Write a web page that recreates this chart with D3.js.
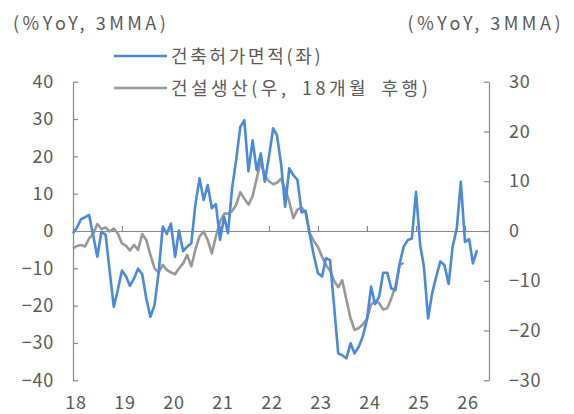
<!DOCTYPE html>
<html>
<head>
<meta charset="utf-8">
<script src="https://cdn.jsdelivr.net/npm/d3@7"></script>
<style>
  body { margin: 0; background: #fff; }
  svg text { font-family: "Noto Sans CJK KR", "Noto Sans", sans-serif; fill: #595959; }
</style>
</head>
<body>
<svg id="chart" width="574" height="414"></svg>
<script>
// monthly, starting Jan 2018
const startDate = new Date(2018, 0, 1);
const yearLabels = ['18', '19', '20', '21', '22', '23', '24', '25', '26'];
const unitLabel = '(%YoY, 3MMA)';
const seriesNames = ['건축허가면적(좌)', '건설생산(우, 18개월 후행)'];

// 건축허가면적 (left axis)
const permitArea = [
  -0.6, 1.0, 3.1, 3.7, 4.3, -1.3, -6.9, -0.2, -1.0, -10.6,
  -20.3, -15.8, -10.6, -12.2, -14.7, -12.7, -10.1, -11.6, -18.0, -23.0,
  -19.8, -11.2, 1.2, -0.8, 2.0, -6.9, 0.1, -5.4, -4.2, -3.3,
  7.0, 14.1, 8.3, 12.3, 6.1, 7.2, -2.4, 3.8, -0.6, 11.5,
  19.0, 27.9, 29.7, 16.0, 24.3, 16.3, 20.8, 13.2, 20.0, 27.5,
  25.7, 18.0, 6.5, 16.8, 15.0, 13.7, 5.0, 5.4, -1.0, -6.5,
  -11.3, -12.2, -7.3, -7.8, -20.0, -32.8, -33.3, -34.1, -30.1, -32.8,
  -31.0, -28.3, -23.8, -14.9, -19.6, -17.6, -11.2, -11.2, -15.4, -15.8,
  -8.7, -4.2, -2.4, -2.0, 10.5, -3.8, -9.6, -23.4, -16.7, -12.2,
  -8.2, -9.1, -14.2, -4.2, 0.7, 13.2, -2.9, -2.2, -8.7, -5.1
];

// 건설생산, 18개월 후행 (right axis)
const constructionOutput = [
  -3.5, -3.0, -2.8, -3.1, -1.5, -0.6, 1.4, 0.4, 0.7, -0.1,
  0.5, -0.5, -2.5, -3.0, -3.9, -2.8, -3.8, -0.6, -1.8, -4.8,
  -7.5, -8.3, -6.8, -7.8, -8.3, -8.7, -7.5, -6.5, -4.8, -7.1,
  -3.8, -1.1, -0.1, -1.8, -4.5, -1.1, 1.9, 3.5, 3.5, 4.0,
  5.2, 7.8, 6.5, 5.3, 7.0, 10.5, 14.0, 11.0, 10.0, 9.4,
  9.7, 10.5, 8.5, 5.9, 2.6, 4.3, 4.7, 3.7, -0.5, -2.0,
  -3.2, -5.2, -6.8, -8.0, -10.0, -11.3, -9.9, -13.8, -17.5, -19.9,
  -19.5, -18.8, -17.7, -14.8, -14.1, -14.5, -15.8, -15.5, -13.5, -11.1,
  -6.8, -6.4
];

const leftTicks = [-40, -30, -20, -10, 0, 10, 20, 30, 40];
const rightTicks = [-30, -20, -10, 0, 10, 20, 30];

const BLUE = '#4a89dc';
const GRAY = '#989898';
const AXIS = '#868686';

const svg = d3.select('#chart');
const monthDate = i => d3.timeMonth.offset(startDate, i);

const x = d3.scaleTime()
  .domain([startDate, new Date(2026, 5, 29)])
  .range([73, 489]);
const yL = d3.scaleLinear().domain([-40, 40]).range([380.3, 81.7]);
const yR = d3.scaleLinear().domain([-30, 30]).range([380.3, 81.7]);

const fmt = v => (v < 0 ? '\u2212' + Math.abs(v) : String(v));

// left axis
const gL = svg.append('g').attr('transform', 'translate(73,0)')
  .call(d3.axisLeft(yL).tickValues(leftTicks).tickFormat(fmt)
    .tickSizeInner(-5).tickSizeOuter(0).tickPadding(19));

// right axis
const gR = svg.append('g').attr('transform', 'translate(489,0)')
  .call(d3.axisRight(yR).tickValues(rightTicks).tickFormat(fmt)
    .tickSizeInner(-5).tickSizeOuter(0).tickPadding(20));

// x axis on zero line, ticks pointing up
const yearTicks = yearLabels.map((d, i) => d3.timeYear.offset(startDate, i));
const gX = svg.append('g').attr('transform', `translate(0,${yL(0)})`)
  .call(d3.axisBottom(x).tickValues(yearTicks).tickFormat('')
    .tickSizeInner(-5).tickSizeOuter(0));

[gL, gR, gX].forEach(g => {
  g.selectAll('path, line').attr('stroke', AXIS).attr('stroke-width', 1.2);
  g.selectAll('text').attr('font-size', 18).attr('fill', '#595959')
    .attr('letter-spacing', 0.8)
    .style('font-family', '"Noto Sans CJK KR", sans-serif');
});

// year labels along the bottom
svg.append('g').selectAll('text').data(yearTicks).join('text')
  .attr('x', (d) => x(d) + 3)
  .attr('y', 409)
  .attr('text-anchor', 'middle')
  .attr('font-size', 18)
  .attr('letter-spacing', 0.8)
  .text((d, i) => yearLabels[i]);

// lines
const lineL = d3.line().x((d, i) => x(monthDate(i))).y(d => yL(d));
const lineR = d3.line().x((d, i) => x(monthDate(i))).y(d => yR(d));

svg.append('path').datum(constructionOutput)
  .attr('d', lineR).attr('fill', 'none')
  .attr('stroke', GRAY).attr('stroke-width', 2.6).attr('stroke-linejoin', 'round');

svg.append('path').datum(permitArea)
  .attr('d', lineL).attr('fill', 'none')
  .attr('stroke', BLUE).attr('stroke-width', 2.6).attr('stroke-linejoin', 'round');

// unit labels
svg.append('text').attr('x', 13).attr('y', 30).attr('font-size', 18)
  .attr('letter-spacing', 3.5).text(unitLabel);
svg.append('text').attr('x', 564).attr('y', 30).attr('font-size', 18)
  .attr('letter-spacing', 3.5).attr('text-anchor', 'end').text(unitLabel);

// legend
const legend = svg.append('g');
[BLUE, GRAY].forEach((c, i) => {
  const ly = 56 + i * 32;
  legend.append('line').attr('x1', 114).attr('x2', 167).attr('y1', ly).attr('y2', ly)
    .attr('stroke', c).attr('stroke-width', 2.6);
  legend.append('text').attr('x', 171).attr('y', ly + 6.5).attr('font-size', 18)
    .attr('letter-spacing', i ? 3.5 : 2.7).attr('word-spacing', i ? 5 : 0)
    .text(seriesNames[i]);
});
</script>
</body>
</html>
